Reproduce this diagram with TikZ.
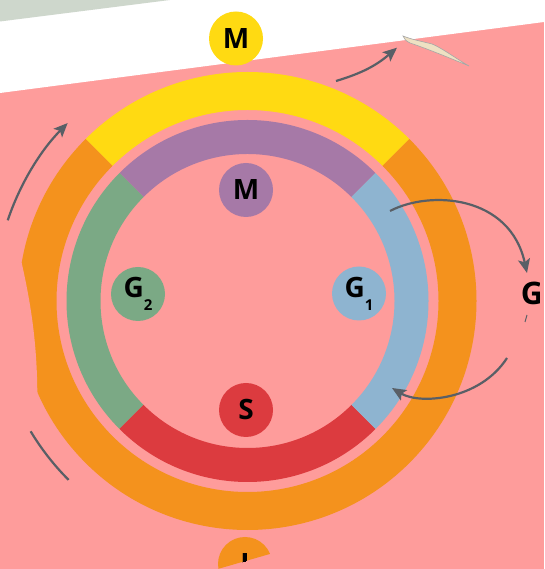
\documentclass[tikz,border=0pt]{standalone}
\usepackage{fontspec}
\setsansfont{Open Sans}
\usetikzlibrary{arrows.meta}
\definecolor{pagepink}{HTML}{FE9C9B}
\definecolor{pagegrey}{HTML}{CED7CC}
\definecolor{mitosisyellow}{HTML}{FFDA12}
\definecolor{interorange}{HTML}{F4921D}
\definecolor{mpurple}{HTML}{A679A7}
\definecolor{gtwogreen}{HTML}{7BA985}
\definecolor{gblue}{HTML}{8EB4D0}
\definecolor{sred}{HTML}{DC3B3F}
\definecolor{arrowgrey}{HTML}{595F66}
\definecolor{paper}{HTML}{EEE1C3}
\tikzset{
  phase/.style={circle,minimum size=54pt,inner sep=0pt,text=black,
    font=\sffamily\bfseries\fontsize{28}{28}\selectfont},
  cyclearrow/.style={draw=arrowgrey,line width=2.2pt,
    -{Stealth[length=14pt,width=12pt,inset=3pt]}},
  cycleline/.style={draw=arrowgrey,line width=2.2pt}
}

\begin{document}
\begin{tikzpicture}[x=1pt,y=1pt]
  \useasboundingbox (0,0) rectangle (544,569);
  % page
  \fill[pagepink] (0,0) rectangle (544,569);
  \fill[white] (0,476) -- (544,547) -- (544,569) -- (0,569) -- cycle;
  \fill[pagegrey] (0,547.5) -- (170,569) -- (0,569) -- cycle;

  % rings
  \begin{scope}[shift={(247.5,268)}]
    \fill[mitosisyellow] (45:229pt) arc[start angle=45,end angle=135,radius=229pt]
      -- (135:191pt) arc[start angle=135,end angle=45,radius=191pt] -- cycle;
    \fill[interorange] (135:229pt) arc[start angle=135,end angle=405,radius=229pt]
      -- (405:191pt) arc[start angle=405,end angle=135,radius=191pt] -- cycle;
    \fill[mpurple] (45:181pt) arc[start angle=45,end angle=135,radius=181pt]
      -- (135:147pt) arc[start angle=135,end angle=45,radius=147pt] -- cycle;
    \fill[gtwogreen] (135:181pt) arc[start angle=135,end angle=225,radius=181pt]
      -- (225:147pt) arc[start angle=225,end angle=135,radius=147pt] -- cycle;
    \fill[sred] (225:181pt) arc[start angle=225,end angle=315,radius=181pt]
      -- (315:147pt) arc[start angle=315,end angle=225,radius=147pt] -- cycle;
    \fill[gblue] (315:181pt) arc[start angle=315,end angle=405,radius=181pt]
      -- (405:147pt) arc[start angle=405,end angle=315,radius=147pt] -- cycle;

    \coordinate (uptail) at (161.4:253pt);
    \coordinate (lowtail) at (211:253pt);
    \draw[cyclearrow] (uptail) arc[start angle=161.4,end angle=135.3,radius=253pt];
    \draw[cycleline] (lowtail) arc[start angle=211,end angle=225,radius=253pt];
  \end{scope}
  % crease on the left
  \fill[pagepink] (0,306) -- (21.7,306) .. controls (30,269) and (37,229) .. (37.3,176)
    -- (0,176) -- cycle;

  % paper curl
  \fill[paper,draw=gray!70,line width=0.6pt] (403,533)
    .. controls (404,530) and (406,528) .. (410,526)
    .. controls (428,520) and (452,510) .. (469,503)
    .. controls (455,511) and (442,521) .. (432,525)
    .. controls (420,528) and (410,530) .. cycle;

  \node[phase,fill=mitosisyellow] (mtop) at (236,530.5) {M};
  \node[phase,fill=mpurple] (mphase) at (246,379) {M};
  \node[phase,fill=gtwogreen] (gtwo) at (138,275)
    {G\raisebox{-13pt}{\fontsize{15}{15}\selectfont 2}};
  \node[phase,fill=gblue] (gone) at (359,275.5)
    {G\raisebox{-13pt}{\fontsize{15}{15}\selectfont 1}};
  \node[phase,fill=sred] (sphase) at (246,159) {S};
  \begin{scope}
    \clip (190,-8) -- (300,23.7) -- (300,40) -- (190,40) -- cycle;
    \node[phase,fill=interorange] (ibottom) at (245,5) {I};
  \end{scope}
  \begin{scope}
    \clip (505,250) rectangle (539.5,300);
    \node[phase,minimum size=0pt,font=\sffamily\bfseries\fontsize{31}{31}\selectfont]
      (gright) at (532,275.5) {G};
  \end{scope}

  % arrows
  \coordinate (exittail) at (336,488);
  \coordinate (exithead) at (397,521.3);
  \coordinate (outtail) at (390,358);
  \coordinate (outhead) at (527,296);
  \coordinate (backtail) at (507,211);
  \coordinate (backhead) at (392,181);
  \coordinate (stubtop) at (527,254);
  \coordinate (stubend) at (525,247);
  \draw[cyclearrow] (exittail) to[bend right=12] (exithead);
  \draw[cyclearrow] (outtail) .. controls (430,379) and (510,374) .. (outhead);
  \draw[cyclearrow] (backtail) .. controls (480,169) and (420,164) .. (backhead);
  \draw[cycleline,line width=1pt] (stubtop) -- (stubend);
\end{tikzpicture}
\end{document}
